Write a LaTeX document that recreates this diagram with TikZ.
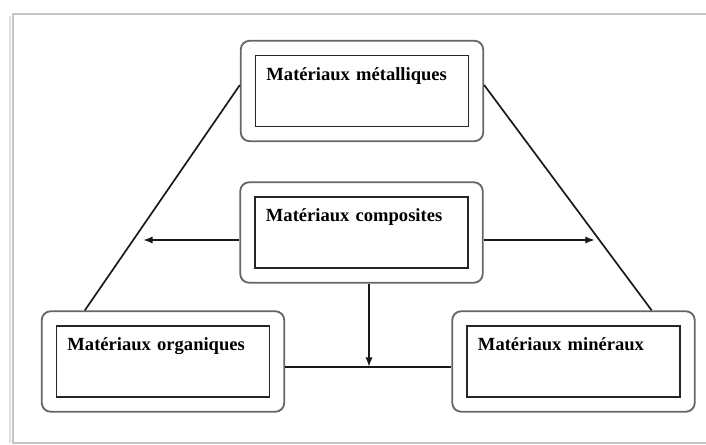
\documentclass[tikz,border=0pt]{standalone}
\usepackage{fontspec}
\setmainfont{Liberation Serif}
\usetikzlibrary{arrows.meta, fit, calc}

\begin{document}
\begin{tikzpicture}[x=0.025cm, y=-0.025cm,
  inbox/.style={draw=black!85, line width=1pt, inner xsep=0.275cm, inner ysep=0pt, text width=4.775cm, text height=0.625cm, text depth=1.15cm, align=left, font=\fontsize{13.2}{15}\selectfont\bfseries},
  outbox/.style={draw=black!60, line width=1.3pt, rounded corners=0.22cm, inner sep=0.35cm},
  link/.style={line width=1.2pt, draw=black!90},
  arr/.style={link, -{Latex[length=2.4mm, width=1.8mm]}}
]
  \useasboundingbox (0,0) rectangle (706,445);
  % page frame
  \draw[gray!25, line width=2pt] (10,16) -- (10,443);
  \draw[gray!45, line width=0.8pt] (710,14) -- (13,14) -- (13,443) -- (710,443);

  \foreach \n/\p/\t in {met/{362,91}/Matériaux métalliques, comp/{361.5,232.5}/Matériaux composites,
                        org/{163,361.5}/Matériaux organiques, min/{573.5,361.5}/Matériaux minéraux}{
    \node[inbox] (\n) at (\p) {\t};
    \node[outbox, fit=(\n)] (\n-o) {};
  }

  \coordinate (lt) at (143,240);
  \coordinate (rt) at (595,240);
  \coordinate (hub) at (369,367);

  \draw[link] ($(met-o.west)+(0,-6)$) -- ($(org-o.north west)!0.18!(org-o.north east)$);
  \draw[link] ($(met-o.east)+(0,-6)$) -- ($(min-o.north west)!0.82!(min-o.north east)$);
  \draw[arr] (comp-o.west |- lt) -- (lt);
  \draw[arr] (comp-o.east |- rt) -- (rt);
  \draw[arr] (comp-o.south -| hub) -- (hub);
  \draw[link] (org-o.east |- hub) -- (min-o.west |- hub);
\end{tikzpicture}
\end{document}
